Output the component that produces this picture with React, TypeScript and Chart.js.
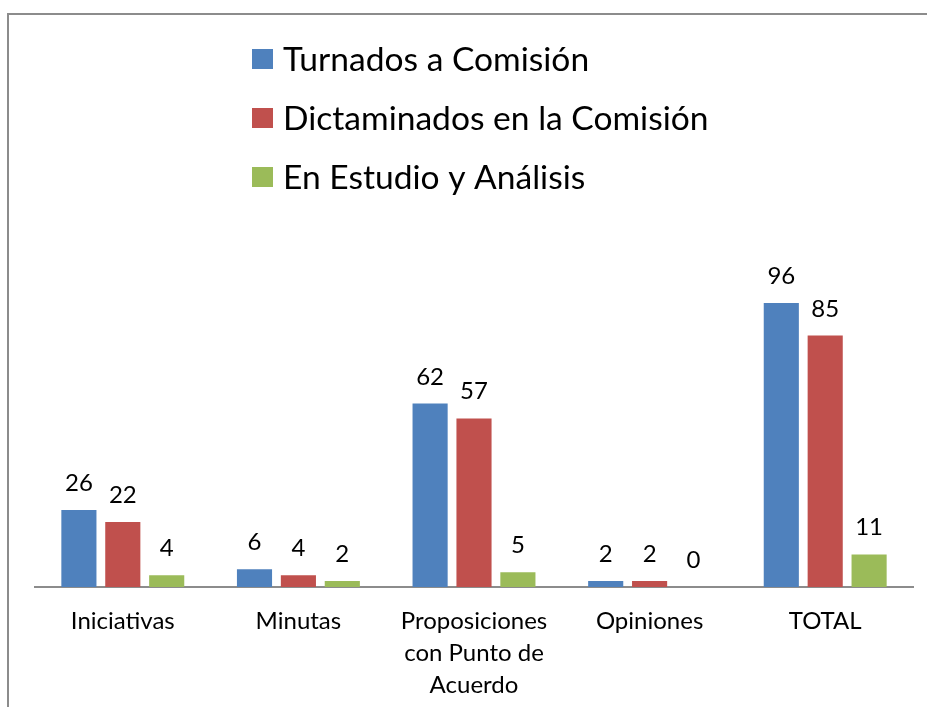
import React, { useEffect, useRef } from "react";
import { Chart, registerables } from "chart.js";

Chart.register(...registerables);

const categories: (string | string[])[] = [
  "Iniciativas",
  "Minutas",
  ["Proposiciones", "con Punto de", "Acuerdo"],
  "Opiniones",
  "TOTAL",
];
const seriesNames = ["Turnados a Comisión", "Dictaminados en la Comisión", "En Estudio y Análisis"];
const turnados = [26, 6, 62, 2, 96];
const dictaminados = [22, 4, 57, 2, 85];
const enEstudio = [4, 2, 5, 0, 11];
const colors = ["#4F81BD", "#C0504D", "#9BBB59"];

const FONT = "Lato, 'Open Sans', sans-serif";

const frame = {
  id: "frame",
  beforeDraw(chart: any) {
    const ctx = chart.ctx;
    ctx.save();
    ctx.fillStyle = "#ffffff";
    ctx.fillRect(0, 0, chart.width, chart.height);
    ctx.strokeStyle = "#8c8c8c";
    ctx.lineWidth = 2;
    ctx.beginPath();
    ctx.moveTo(8, chart.height);
    ctx.lineTo(8, 14);
    ctx.lineTo(chart.width, 14);
    ctx.stroke();
    ctx.restore();
  },
};

const customLegend = {
  id: "customLegend",
  afterDraw(chart: any) {
    const ctx = chart.ctx;
    ctx.save();
    const size = 33.6;
    ctx.font = `${size}px ${FONT}`;
    ctx.textAlign = "left";
    ctx.textBaseline = "alphabetic";
    chart.data.datasets.forEach((ds: any, i: number) => {
      const cy = 59 + i * 59;
      ctx.fillStyle = ds.backgroundColor;
      ctx.fillRect(252, cy - 10, 21, 20);
      ctx.fillStyle = "#000";
      ctx.fillText(ds.label, 283, cy + size * 0.36);
    });
    ctx.restore();
  },
};

const valueLabels = {
  id: "valueLabels",
  afterDatasetsDraw(chart: any) {
    const ctx = chart.ctx;
    ctx.save();
    ctx.font = `24px ${FONT}`;
    ctx.fillStyle = "#000";
    ctx.textAlign = "center";
    ctx.textBaseline = "alphabetic";
    chart.data.datasets.forEach((ds: any, di: number) => {
      const meta = chart.getDatasetMeta(di);
      meta.data.forEach((bar: any, i: number) => {
        ctx.fillText(String(ds.data[i]), bar.x, bar.y - 19);
      });
    });
    ctx.restore();
  },
};

export default function App() {
  const ref = useRef<HTMLCanvasElement>(null);
  useEffect(() => {
    if (!ref.current) return;
    const chart = new Chart(ref.current, {
      type: "bar",
      data: {
        labels: categories,
        datasets: [
          { label: seriesNames[0], data: turnados, backgroundColor: colors[0] },
          { label: seriesNames[1], data: dictaminados, backgroundColor: colors[1] },
          { label: seriesNames[2], data: enEstudio, backgroundColor: colors[2] },
        ],
      },
      options: {
        responsive: false,
        animation: false,
        devicePixelRatio: 1,
        layout: { padding: { left: 35, right: 14, top: 232, bottom: 0 } },
        datasets: { bar: { categoryPercentage: 0.75, barPercentage: 0.8 } },
        plugins: { legend: { display: false }, tooltip: { enabled: false } },
        scales: {
          x: {
            grid: { display: false, drawTicks: false },
            border: { display: true, color: "#8c8c8c", width: 2 },
            ticks: {
              color: "#000",
              padding: 18,
              maxRotation: 0,
              autoSkip: false,
              font: { family: FONT, size: 24, lineHeight: "32px" as any },
            },
            afterFit: (scale: any) => {
              scale.height = 120;
            },
          },
          y: { display: false, min: 0, max: 120 },
        },
      },
      plugins: [frame, customLegend, valueLabels],
    });
    return () => chart.destroy();
  }, []);
  return (
    <div style={{ position: "fixed", left: 0, top: 0, width: 927, height: 707, background: "#fff" }}>
      <canvas ref={ref} width={927} height={707} style={{ display: "block" }} />
    </div>
  );
}
